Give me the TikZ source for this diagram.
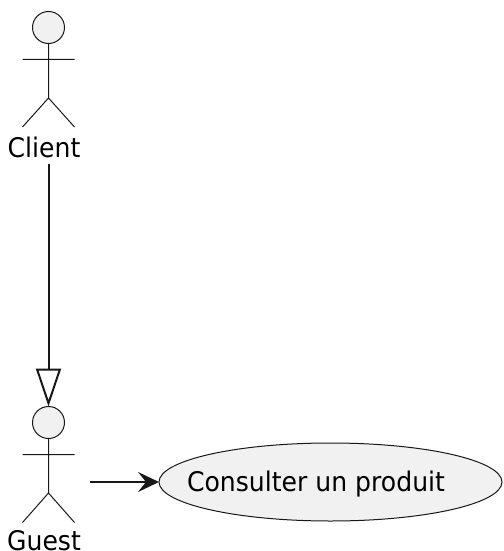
\documentclass[tikz,border=0pt]{standalone}
\usepackage{graphicx}
\usepackage{fontspec}
\setmainfont{DejaVu Sans}
\usetikzlibrary{arrows.meta,shapes.geometric}
\definecolor{actorfill}{HTML}{F1F1F1}
\definecolor{ink}{HTML}{181818}
\newcommand{\condensed}[1]{\scalebox{0.93}[1]{#1}}
\tikzset{
  actorpart/.style={draw=ink,line width=1pt},
  head/.style={circle,draw=ink,fill=actorfill,line width=1pt,minimum size=32pt,inner sep=0pt,outer sep=0pt},
  label text/.style={inner sep=0pt,outer sep=0pt,text=black,font=\fontsize{27}{32}\selectfont,anchor=base},
  usecase/.style={ellipse,draw=ink,fill=actorfill,line width=1pt,minimum width=343pt,minimum height=78pt,inner sep=0pt,outer sep=0pt},
  link/.style={draw=ink,line width=2pt},
}
\begin{document}
\begin{tikzpicture}[x=1pt,y=-1pt]
\useasboundingbox (0,0) rectangle (503,551);
% Client actor
\node[head] (chead) at (48.5,27.5) {};
\coordinate (cneck) at (48.5,43.5);
\coordinate (chip) at (48.5,98);
\coordinate (carml) at (22.5,59.5);
\coordinate (carmr) at (74.5,59.5);
\coordinate (clegl) at (22.5,127);
\coordinate (clegr) at (74.5,127);
\draw[actorpart] (cneck) -- (chip) (carml) -- (carmr) (clegl) -- (chip) -- (clegr);
\node[label text] (client) at (44,157) {\condensed{Client}};
% Guest actor
\node[head] (ghead) at (48.5,422.5) {};
\coordinate (gneck) at (48.5,438.5);
\coordinate (ghip) at (48.5,493);
\coordinate (garml) at (22.5,454.5);
\coordinate (garmr) at (74.5,454.5);
\coordinate (glegl) at (22.5,522.5);
\coordinate (glegr) at (74.5,522.5);
\draw[actorpart] (gneck) -- (ghip) (garml) -- (garmr) (glegl) -- (ghip) -- (glegr);
\node[label text] (guest) at (44,550.5) {\condensed{Guest}};
% Use case
\node[usecase] (uc) at (330.5,482) {};
\node[label text] (uctext) at (316,491) {\condensed{Consulter un produit}};
% Connectors
\coordinate (cfoot) at (48.5,164);
\coordinate (gstart) at (90,482);
\draw[link,-{Triangle[open,length=38pt,width=25pt,line width=2pt]}] (cfoot) -- (ghead.north);
\draw[link,-{Stealth[length=21pt,width=20pt,inset=8pt]}] (gstart) -- (uc.west);
\end{tikzpicture}
\end{document}
